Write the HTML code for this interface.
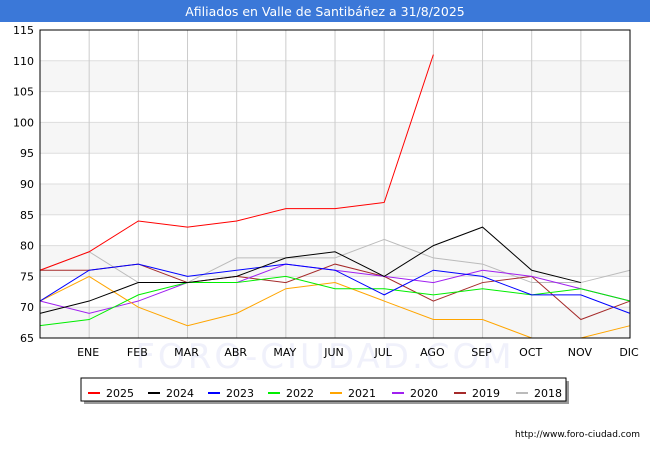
<!DOCTYPE html>
<html><head><meta charset="utf-8"><style>
body{margin:0;width:650px;height:450px;background:#fff;font-family:"DejaVu Sans","Liberation Sans",sans-serif;overflow:hidden}
</style></head><body>
<svg width="650" height="450" xmlns="http://www.w3.org/2000/svg" font-family="DejaVu Sans, Liberation Sans, sans-serif">
<rect x="0" y="0" width="650" height="22" fill="#3b78d8"/>
<text x="325" y="16" fill="#fff" font-size="12.5" text-anchor="middle">Afiliados en Valle de Santibáñez a 31/8/2025</text>
<g fill="#f6f6f6">
<rect x="40" y="307.2" width="590" height="30.8"/>
<rect x="40" y="245.6" width="590" height="30.8"/>
<rect x="40" y="184" width="590" height="30.8"/>
<rect x="40" y="122.4" width="590" height="30.8"/>
<rect x="40" y="60.8" width="590" height="30.8"/>
</g>
<g stroke="#ddd" stroke-width="1">
<line x1="40" x2="630" y1="307.2" y2="307.2"/><line x1="40" x2="630" y1="276.4" y2="276.4"/>
<line x1="40" x2="630" y1="245.6" y2="245.6"/><line x1="40" x2="630" y1="214.8" y2="214.8"/>
<line x1="40" x2="630" y1="184" y2="184"/><line x1="40" x2="630" y1="153.2" y2="153.2"/>
<line x1="40" x2="630" y1="122.4" y2="122.4"/><line x1="40" x2="630" y1="91.6" y2="91.6"/>
<line x1="40" x2="630" y1="60.8" y2="60.8"/>
</g>
<g stroke="#ccc" stroke-width="1" id="vg"></g>
<text x="325" y="368" font-size="34" fill="#f0f1fb" text-anchor="middle" letter-spacing="3">FORO-CIUDAD.COM</text>
<g id="series" fill="none" stroke-width="1"></g>
<rect x="40" y="30" width="590" height="308" fill="none" stroke="#000"/>
<g font-size="11" fill="#000" text-anchor="end" id="yl"></g>
<g font-size="11" fill="#000" text-anchor="middle" id="xl"></g>
<rect x="84" y="381" width="485" height="23" fill="#999"/>
<rect x="81" y="378" width="485" height="23" fill="#fff" stroke="#000"/>
<g font-size="11" id="lg"></g>
<text x="640" y="437" font-size="9" text-anchor="end">http://www.foro-ciudad.com</text>
</svg>
<script>
var ns="http://www.w3.org/2000/svg";
function el(p,t,a,txt){var e=document.createElementNS(ns,t);for(var k in a)e.setAttribute(k,a[k]);if(txt)e.textContent=txt;document.getElementById(p).appendChild(e);}
var X=function(i){return 40+i*49.17},Y=function(v){return 338-(v-65)*6.16};
for(var i=1;i<=12;i++)el("vg","line",{x1:X(i),x2:X(i),y1:30,y2:338});
for(var v=65;v<=115;v+=5)el("yl","text",{x:34,y:Y(v)+4},""+v);
var m=["ENE","FEB","MAR","ABR","MAY","JUN","JUL","AGO","SEP","OCT","NOV","DIC"];
m.forEach(function(s,i){el("xl","text",{x:X(i+1)-1,y:356},s)});
var S=[
["2018","#bbb",[76,79,74,74,78,78,78,81,78,77,74,74,76]],
["2019","#a52a2a",[76,76,77,74,75,74,77,75,71,74,75,68,71]],
["2020","#a020f0",[71,69,71,74,74,77,76,75,74,76,75,73,71]],
["2021","#ffa500",[71,75,70,67,69,73,74,71,68,68,65,65,67]],
["2022","#00ee00",[67,68,72,74,74,75,73,73,72,73,72,73,71]],
["2023","#0000ff",[71,76,77,75,76,77,76,72,76,75,72,72,69]],
["2024","#000",[69,71,74,74,75,78,79,75,80,83,76,74]],
["2025","#ff0000",[76,79,84,83,84,86,86,87,111]]];
S.forEach(function(s){el("series","polyline",{stroke:s[1],points:s[2].map(function(v,i){return X(i)+","+Y(v)}).join(" ")})});
var L=S.slice().reverse();
var lx=[88,148,208,268,330,392,454,516];
L.forEach(function(s,i){el("lg","line",{x1:lx[i],x2:lx[i]+12,y1:393,y2:393,stroke:s[1],"stroke-width":2});el("lg","text",{x:lx[i]+18,y:397},s[0])});
</script>
</body></html>
